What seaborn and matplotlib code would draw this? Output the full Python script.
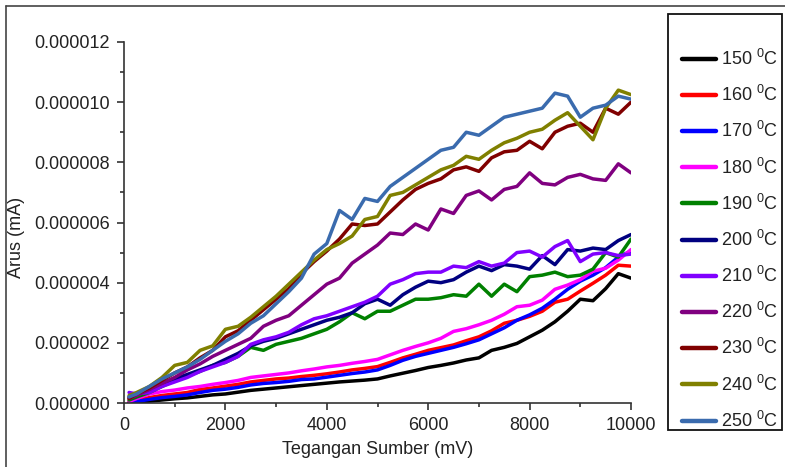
import matplotlib
matplotlib.use("Agg")
import matplotlib.pyplot as plt
import seaborn as sns
import pandas as pd
from matplotlib.lines import Line2D
from matplotlib.patches import Rectangle
from matplotlib.ticker import MultipleLocator, FormatStrFormatter

voltage = [100, 250, 500, 750, 1000, 1250, 1500, 1750, 2000, 2250, 2500, 2750,
           3000, 3250, 3500, 3750, 4000, 4250, 4500, 4750, 5000, 5250, 5500,
           5750, 6000, 6250, 6500, 6750, 7000, 7250, 7500, 7750, 8000, 8250,
           8500, 8750, 9000, 9250, 9500, 9750, 10000]

# current values in units of 1e-6 mA
t150 = [0.0, 0.02, 0.06, 0.1, 0.14, 0.17, 0.22, 0.27, 0.3, 0.36, 0.42, 0.46,
        0.5, 0.54, 0.58, 0.62, 0.66, 0.7, 0.73, 0.76, 0.8, 0.9, 0.99, 1.08,
        1.18, 1.25, 1.33, 1.43, 1.5, 1.75, 1.85, 1.98, 2.2, 2.42, 2.7, 3.05,
        3.45, 3.4, 3.8, 4.3, 4.15]
t160 = [0.05, 0.08, 0.18, 0.25, 0.3, 0.35, 0.45, 0.5, 0.56, 0.62, 0.7, 0.75,
        0.8, 0.83, 0.88, 0.92, 0.97, 1.03, 1.1, 1.15, 1.21, 1.35, 1.5, 1.62,
        1.75, 1.84, 1.93, 2.07, 2.2, 2.4, 2.65, 2.75, 2.88, 3.05, 3.35, 3.45,
        3.72, 3.98, 4.25, 4.58, 4.55]
t170 = [0.0, 0.05, 0.12, 0.18, 0.22, 0.27, 0.35, 0.42, 0.46, 0.52, 0.6, 0.65,
        0.68, 0.72, 0.78, 0.8, 0.86, 0.92, 0.98, 1.03, 1.1, 1.25, 1.42, 1.55,
        1.65, 1.75, 1.85, 1.97, 2.1, 2.3, 2.5, 2.75, 2.93, 3.15, 3.45, 3.78,
        4.05, 4.25, 4.5, 4.85, 5.05]
t180 = [0.05, 0.15, 0.3, 0.38, 0.43, 0.5, 0.55, 0.62, 0.68, 0.75, 0.85, 0.9,
        0.95, 1.0, 1.07, 1.13, 1.2, 1.25, 1.32, 1.38, 1.45, 1.6, 1.75, 1.88,
        2.0, 2.15, 2.38, 2.47, 2.6, 2.75, 2.95, 3.2, 3.25, 3.42, 3.78, 3.92,
        4.1, 4.38, 4.48, 4.75, 5.1]
t190 = [0.1, 0.2, 0.35, 0.55, 0.75, 0.9, 1.05, 1.25, 1.35, 1.55, 1.85, 1.75,
        1.95, 2.05, 2.15, 2.3, 2.45, 2.7, 3.0, 2.8, 3.05, 3.05, 3.25, 3.45,
        3.45, 3.5, 3.6, 3.55, 3.95, 3.55, 3.95, 3.7, 4.2, 4.25, 4.35, 4.2,
        4.25, 4.45, 5.0, 4.85, 5.45]
t200 = [0.2, 0.3, 0.45, 0.6, 0.8, 0.95, 1.1, 1.25, 1.45, 1.65, 1.9, 2.05,
        2.15, 2.3, 2.45, 2.6, 2.75, 2.85, 3.0, 3.3, 3.45, 3.25, 3.6, 3.85,
        4.05, 4.0, 4.1, 4.35, 4.55, 4.4, 4.6, 4.55, 4.45, 4.9, 4.6, 5.1,
        5.05, 5.15, 5.1, 5.4, 5.6]
t210 = [0.35, 0.3, 0.35, 0.55, 0.7, 0.85, 1.05, 1.2, 1.35, 1.55, 1.95, 2.1,
        2.2, 2.35, 2.6, 2.8, 2.9, 3.05, 3.2, 3.35, 3.55, 3.95, 4.1, 4.3,
        4.35, 4.35, 4.55, 4.5, 4.7, 4.55, 4.65, 5.0, 5.05, 4.85, 5.2, 5.4,
        4.7, 4.95, 5.0, 4.9, 4.95]
t220 = [0.15, 0.25, 0.45, 0.65, 0.85, 1.1, 1.3, 1.55, 1.75, 1.95, 2.15, 2.55,
        2.75, 2.9, 3.25, 3.6, 3.95, 4.15, 4.65, 4.95, 5.25, 5.65, 5.6, 5.95,
        5.75, 6.45, 6.3, 6.9, 7.05, 6.75, 7.1, 7.2, 7.65, 7.3, 7.25, 7.5,
        7.6, 7.45, 7.4, 7.95, 7.65]
t230 = [0.15, 0.3, 0.5, 0.75, 1.0, 1.2, 1.5, 1.75, 2.2, 2.4, 2.75, 3.1,
        3.45, 3.8, 4.3, 4.7, 5.05, 5.45, 5.95, 5.9, 5.95, 6.35, 6.75, 7.1,
        7.3, 7.45, 7.75, 7.85, 7.7, 8.15, 8.35, 8.4, 8.7, 8.45, 9.0, 9.2,
        9.3, 9.0, 9.8, 9.6, 10.0]
t240 = [0.25, 0.35, 0.55, 0.85, 1.25, 1.35, 1.75, 1.9, 2.45, 2.55, 2.85, 3.2,
        3.55, 3.95, 4.35, 4.75, 5.1, 5.3, 5.55, 6.1, 6.2, 6.9, 7.0, 7.25,
        7.5, 7.75, 7.9, 8.2, 8.1, 8.4, 8.65, 8.8, 9.0, 9.1, 9.4, 9.65,
        9.2, 8.75, 9.8, 10.4, 10.25]
t250 = [0.2, 0.3, 0.55, 0.8, 1.0, 1.2, 1.45, 1.75, 2.05, 2.3, 2.65, 2.9,
        3.3, 3.7, 4.15, 4.95, 5.3, 6.4, 6.1, 6.8, 6.7, 7.2, 7.5, 7.8,
        8.1, 8.4, 8.5, 9.0, 8.9, 9.2, 9.5, 9.6, 9.7, 9.8, 10.3, 10.2,
        9.5, 9.8, 9.9, 10.2, 10.1]

temps = [150, 160, 170, 180, 190, 200, 210, 220, 230, 240, 250]
series = [t150, t160, t170, t180, t190, t200, t210, t220, t230, t240, t250]
colors = ["#000000", "#FF0000", "#0000FF", "#FF00FF", "#008000", "#000080",
          "#8000FF", "#800080", "#800000", "#808000", "#3A6BAE"]
labels = [f"{t} $^{{0}}$C" for t in temps]

rows = []
for lab, vals in zip(labels, series):
    for v, c in zip(voltage, vals):
        rows.append({"Tegangan": v, "Arus": c * 1e-6, "Suhu": lab})
df = pd.DataFrame(rows)

sns.set_style("ticks")
plt.rcParams["font.family"] = ["Liberation Sans", "DejaVu Sans"]
plt.rcParams["mathtext.fontset"] = "custom"
plt.rcParams["mathtext.rm"] = "Liberation Sans"

FS = 13
TXT = "#222222"

fig = plt.figure(figsize=(7.85, 4.67), dpi=100)
ax = fig.add_axes([124/785, 1 - 403/467, (631-124)/785, (403-42)/467])

sns.lineplot(data=df, x="Tegangan", y="Arus", hue="Suhu", hue_order=labels,
             palette=dict(zip(labels, colors)), linewidth=2.5, ax=ax,
             legend=False, sort=False, estimator=None)

ax.set_xlim(0, 10000)
ax.set_ylim(0, 1.2e-5)
ax.xaxis.set_major_locator(MultipleLocator(2000))
ax.xaxis.set_minor_locator(MultipleLocator(1000))
ax.yaxis.set_major_locator(MultipleLocator(2e-6))
ax.yaxis.set_minor_locator(MultipleLocator(1e-6))
ax.yaxis.set_major_formatter(FormatStrFormatter("%.6f"))
ax.xaxis.set_major_formatter(FormatStrFormatter("%d"))
for s in ["top", "right"]:
    ax.spines[s].set_visible(False)
for s in ["left", "bottom"]:
    ax.spines[s].set_color("#333333")
    ax.spines[s].set_linewidth(1.2)
ax.tick_params(which="major", direction="out", length=5, width=1.2,
               color="#333333", labelsize=FS, pad=5, labelcolor=TXT)
ax.tick_params(which="minor", direction="out", length=3, width=1.2,
               color="#333333")
ax.set_xlabel("Tegangan Sumber (mV)", fontsize=FS, color=TXT, labelpad=5)
ax.set_ylabel("Arus (mA)", fontsize=FS, color=TXT)
ax.yaxis.set_label_coords(-(124 - 25) / 507, 0.46)

# figure border (top and left)
fig.add_artist(Line2D([6/785, 1], [1 - 6/467, 1 - 6/467], transform=fig.transFigure,
                      color="#444444", linewidth=1.2))
fig.add_artist(Line2D([6/785, 6/785], [0, 1 - 6/467], transform=fig.transFigure,
                      color="#444444", linewidth=1.2))

# legend box
fig.add_artist(Rectangle((668/785, 1 - 430/467), (782-668)/785, (430-14)/467,
                         transform=fig.transFigure, fill=False,
                         edgecolor="#111111", linewidth=1.3))
handles = [Line2D([], [], color=c, linewidth=3.2) for c in colors]
fig.legend(handles, labels, loc="upper left",
           bbox_to_anchor=(673/785, 1 - 40/467), frameon=False, fontsize=FS,
           borderpad=0, handlelength=1.9, handletextpad=0.25,
           labelspacing=0.89, labelcolor=TXT)

fig.savefig("out.png", dpi=100)
